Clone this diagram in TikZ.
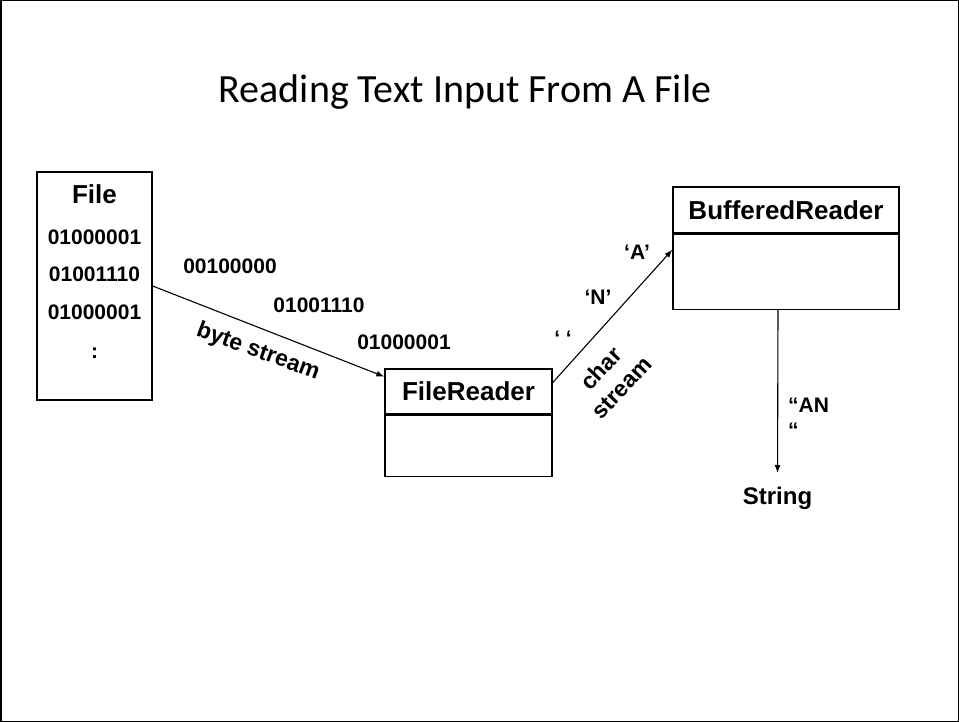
\documentclass[tikz,border=0pt]{standalone}
\usepackage{fontspec}
\setsansfont{Liberation Sans}
\newfontfamily\titlefont{Carlito}
\usetikzlibrary{arrows.meta,positioning}
\definecolor{ink}{HTML}{000000}
\tikzset{arr/.style={-{Latex[length=8pt,width=6pt]},line width=1.1pt,draw=ink},
  clsname/.style={draw=ink,line width=1.3pt,inner sep=0pt,font=\fontsize{26}{30}\selectfont\sffamily\bfseries},
  clsbody/.style={draw=ink,line width=1.3pt,inner sep=0pt},
  lbl/.style={inner sep=0pt,text=ink,font=\fontsize{21}{25}\selectfont\sffamily\bfseries},
  biglbl/.style={lbl,font=\fontsize{23}{28}\selectfont\sffamily\bfseries}}

\begin{document}
\begin{tikzpicture}[x=1pt,y=-1pt]
\useasboundingbox (0,0) rectangle (959,722);
\draw[line width=1.5pt] (0.75,0.75) rectangle (958.25,721.25);
\node[anchor=base,font=\titlefont\fontsize{40}{48}\selectfont] (title) at (465,103) {Reading Text Input From A File};
% the file
\node[draw=ink,line width=1.3pt,minimum width=115,minimum height=228,inner sep=0pt] (file) at (94.5,286) {};
\node[lbl,font=\fontsize{26}{30}\selectfont\sffamily\bfseries] (filename) at (94.5,194) {File};
\node[lbl] (bits1) at (94.5,237) {01000001};
\node[lbl] (bits2) at (94.5,274) {01001110};
\node[lbl] (bits3) at (94.5,312) {01000001};
\node[lbl] (more) at (94.5,353) {:};
% reader classes
\node[clsname,minimum width=167,minimum height=45] (fr) at (468.5,391.5) {FileReader};
\node[clsbody,minimum width=167,minimum height=61,below=0pt of fr] (frb) {};
\node[clsname,minimum width=226,minimum height=46] (br) at (786,210) {BufferedReader};
\node[clsbody,minimum width=226,minimum height=75,below=0pt of br] (brb) {};
\node[lbl,font=\fontsize{24}{28}\selectfont\sffamily\bfseries,anchor=north] (str) at (777.5,487) {String};
% byte stream
\node[lbl] (byte1) at (230,266) {00100000};
\node[lbl] (byte2) at (319,305) {01001110};
\node[lbl] (byte3) at (404,342) {01000001};
\node[biglbl,rotate=-20] (bytes) at (258,352) {byte stream};
\draw[arr] (file.east) -- (fr.170);
% char stream
\node[lbl] (chA) at (637,252) {‘A’};
\node[lbl] (chN) at (598,297) {‘N’};
\node[lbl] (chsp) at (563,338) {‘ ‘};
\node[biglbl,rotate=47,align=center] (chars) at (611,378) {char\\stream};
\draw[arr] (fr.6) -- (brb.169);
% result
\node[lbl,anchor=north west,align=left,font=\fontsize{21}{25}\selectfont\sffamily\bfseries] (an) at (788,398) {“AN\\“};
\draw[arr,shorten >=14pt] ([xshift=-8pt]brb.south) -- (str.north);
\end{tikzpicture}
\end{document}
